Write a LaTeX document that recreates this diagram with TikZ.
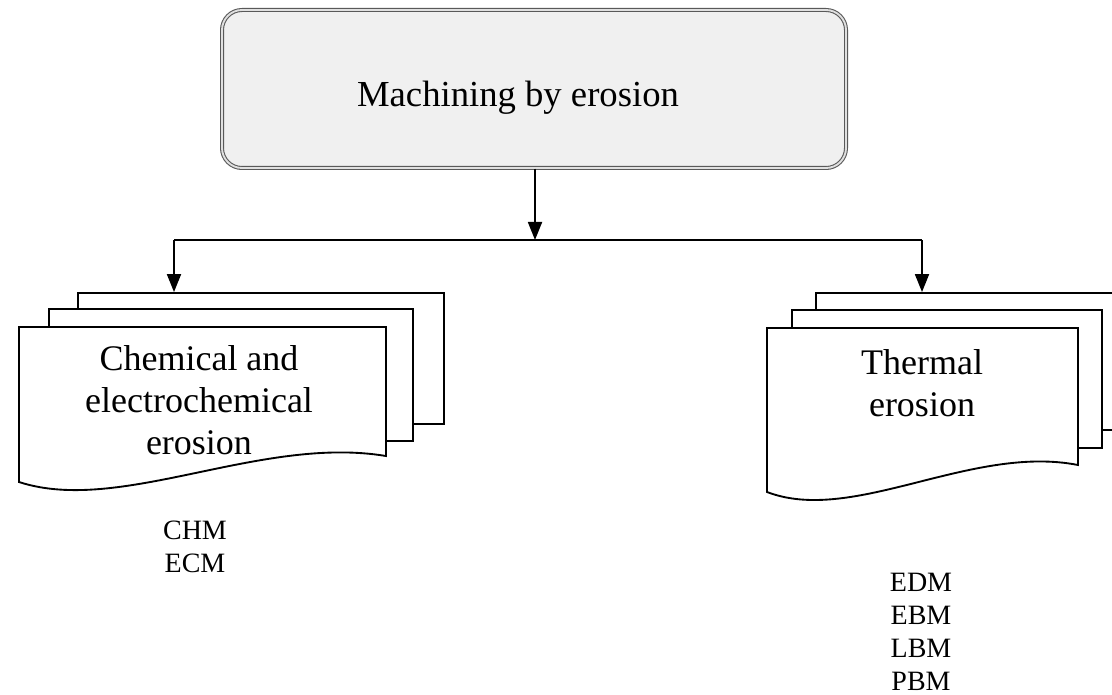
\documentclass[tikz,border=0pt]{standalone}
\usepackage{fontspec}
\setmainfont{Liberation Serif}
\usetikzlibrary{arrows.meta,calc}
\tikzset{
  mainbox/.style={draw=black!65, line width=0.8pt, double=black!12,
    double distance=1.4pt, fill=black!6, rounded corners=15pt,
    minimum width=468pt, minimum height=118.5pt, inner sep=0pt},
  sheet/.style={draw=black, line width=1.4pt, fill=white, inner sep=0pt},
  sheetline/.style={draw=black, line width=1.4pt, fill=white},
  bigtext/.style={align=center, inner sep=0pt,
    font=\fontsize{27.5}{31.5}\selectfont},
  boxtext/.style={align=center, inner sep=0pt,
    font=\fontsize{27}{31.5}\selectfont},
  smalltext/.style={align=center, inner sep=0pt,
    font=\fontsize{21}{24.75}\selectfont},
  conn/.style={draw=black, line width=1.4pt},
  arr/.style={conn, -{Triangle[length=13.5pt,width=10.5pt]}}
}
\begin{document}
\begin{tikzpicture}[x=0.75pt,y=-0.75pt]
  \clip (0,0) rectangle (1112,695);

  % root box
  \node[mainbox] (top) at (534,89) {};
  \node[bigtext] (toptext) at (518,98) {Machining by erosion};

  % left stack of sheets
  \node[sheet, minimum width=274.5pt, minimum height=98.25pt] (chemback) at (261,358.5) {};
  \node[sheet, minimum width=273pt, minimum height=99pt] (chemmid) at (231,375) {};
  \draw[sheetline] (19,327) -- (386,327) -- (386,456)
    .. controls (260,435) and (120,515) .. (19,482) -- cycle;
  \node[boxtext] (chem) at (199,400) {Chemical and\\electrochemical\\erosion};
  \node[smalltext] (chemlist) at (195,547) {CHM\\ECM};

  % right stack of sheets
  \node[sheet, minimum width=233.25pt, minimum height=102.75pt] (thermback) at (971.5,361.5) {};
  \node[sheet, minimum width=232.5pt, minimum height=103.5pt] (thermmid) at (947,379) {};
  \draw[sheetline] (767,328) -- (1078,328) -- (1078,465)
    .. controls (971,444) and (853,525) .. (767,492) -- cycle;
  \node[boxtext] (therm) at (922,383) {Thermal\\erosion};
  \node[smalltext] (thermlist) at (921,632) {EDM\\EBM\\LBM\\PBM};

  % connectors
  \coordinate (bus) at (535,240);
  \coordinate (busl) at (174,240);
  \coordinate (busr) at (922,240);
  \draw[conn] (busl) -- (busr);
  \draw[arr] (top.south -| bus) -- (bus);
  \draw[arr] (busl) -- (chemback.north -| busl);
  \draw[arr] (busr) -- (thermback.north -| busr);
\end{tikzpicture}
\end{document}
